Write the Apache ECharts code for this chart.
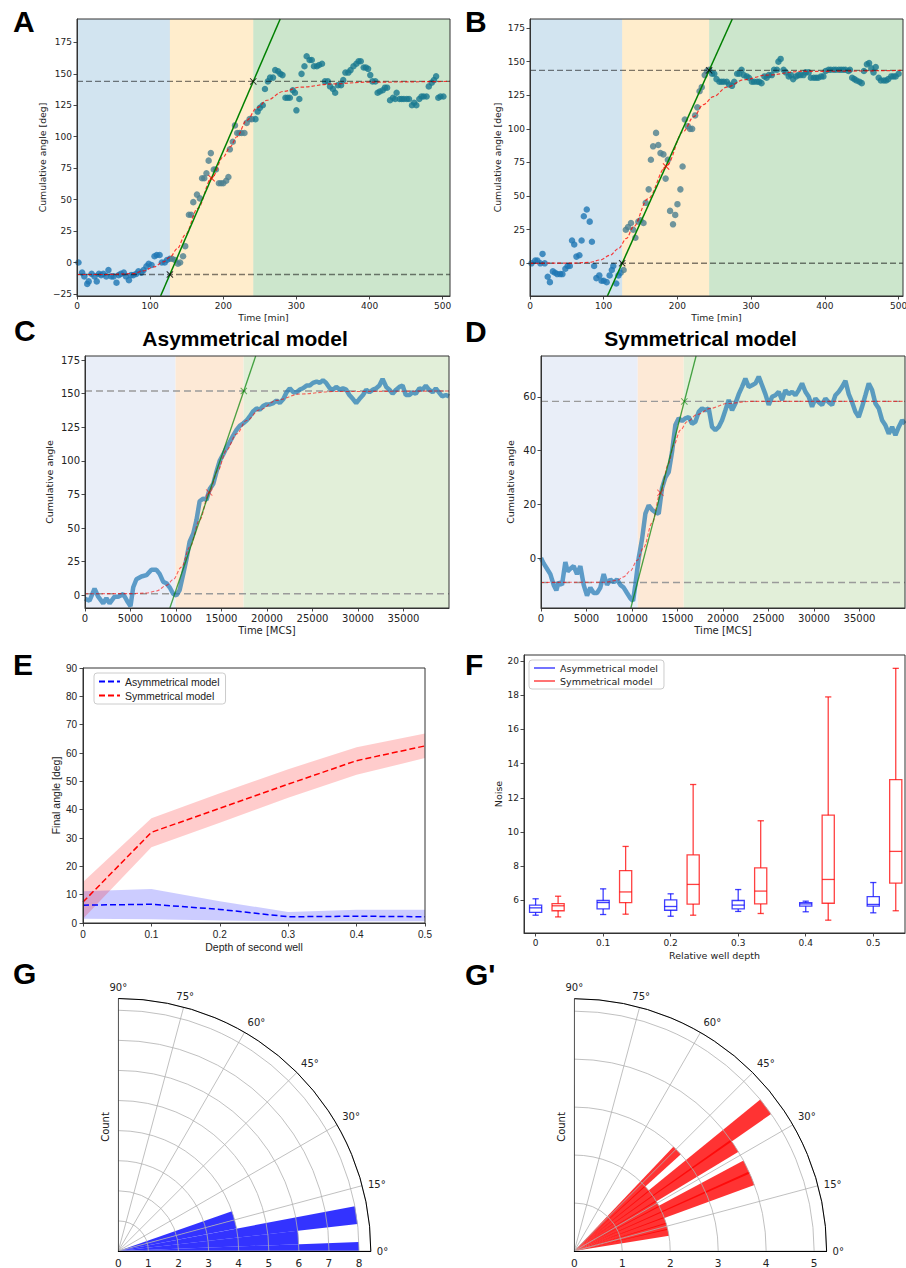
<!DOCTYPE html>
<html>
<head>
<meta charset="utf-8">
<script src="https://cdn.jsdelivr.net/npm/echarts@6.0.0/dist/echarts.min.js"></script>
<style>html,body{margin:0;padding:0;background:#fff;}#chart{width:906px;height:1268px;}</style>
</head>
<body>
<div id="chart"></div>
<script>
// ================= DATA =================
// Panel A (experiment, time in min)
const aPoints = [[2,0],[7,-8],[10,-11],[14,-17],[16,-15],[20,-9],[24,-11],[27,-15],[30,-9],[33,-10],[36,-9],[40,-11],[43,-6],[47,-11],[50,-11],[54,-16],[57,-10],[60,-9],[64,-8],[67,-11],[71,-14],[74,-10],[77,-10],[81,-9],[84,-7],[88,-8],[91,-6],[95,-3],[98,-1],[102,-2],[106,5],[109,6],[113,6],[116,0],[120,0],[123,2],[127,3],[130,3],[134,2],[138,-1],[141,0],[145,5],[148,13],[153,38],[156,38],[159,48],[164,54],[168,51],[171,67],[174,67],[177,71],[180,81],[183,87],[187,74],[190,74],[194,63],[197,63],[200,63],[204,65],[207,68],[209,90],[213,96],[216,109],[219,103],[222,103],[225,103],[229,103],[232,111],[236,114],[239,114],[244,114],[247,120],[250,123],[254,125],[257,138],[261,144],[264,147],[268,147],[271,153],[275,152],[278,150],[281,149],[285,131],[288,131],[291,131],[295,137],[298,135],[300,121],[304,130],[307,150],[311,156],[314,164],[318,161],[321,161],[324,156],[328,156],[331,157],[335,158],[339,144],[343,144],[346,140],[350,138],[353,135],[357,141],[361,141],[364,145],[367,151],[371,151],[374,153],[378,156],[382,158],[385,160],[388,160],[392,155],[395,155],[398,154],[401,149],[404,144],[408,144],[411,135],[414,136],[418,137],[421,139],[424,139],[428,129],[432,131],[435,130],[437,135],[441,130],[444,130],[447,130],[451,130],[454,130],[458,125],[461,127],[464,125],[468,130],[471,132],[474,132],[478,132],[481,140],[485,143],[488,145],[491,148],[494,131],[497,132],[501,132]];
const aFit = [[0,-9.5],[40,-9.5],[77,-8.8],[91,-6.6],[105,-3.5],[118,0.5],[127.5,4.5],[137,11],[148,22],[165,43],[184,67],[200,84],[209.5,92],[218.6,100],[232,113],[246,123],[259.6,129],[282,136],[305,139.4],[350,142],[396,143.4],[510,144]];
const aLevels = [-9.5, 144];          // lower / upper plateaus
const aTurns = [[127,-9.5],[241,144]]; // tangent crossing points
const aMid = [184, 67];
const aPhases = [[0,127],[127,241],[241,510]];

// Panel B
const bPoints = [[2,0],[7,2],[10,2],[14,0],[17,7],[20,0],[24,-10],[27,-14],[31,-6],[34,-7],[37,-8],[41,-8],[44,-8],[48,-4],[51,-2],[54,-2],[57,17],[60,14],[63,5],[67,6],[70,17],[73,35],[77,40],[81,31],[84,16],[87,-2],[90,-11],[94,-9],[97,-13],[100,-13],[104,-14],[108,-9],[111,-5],[113,-2],[117,-15],[120,-9],[123,-7],[127,-5],[130,25],[133,27],[137,30],[140,25],[143,19],[147,31],[150,32],[154,30],[157,45],[161,55],[164,77],[167,87],[171,97],[174,88],[177,82],[181,81],[184,63],[187,77],[190,39],[194,29],[197,36],[200,44],[204,55],[207,72],[210,107],[214,102],[217,100],[220,100],[224,110],[227,116],[230,128],[233,131],[237,140],[240,143],[243,144],[247,141],[250,141],[253,137],[257,135],[260,135],[263,135],[267,135],[270,133],[274,132],[277,135],[281,141],[284,141],[287,144],[290,140],[294,139],[297,138],[301,135],[304,135],[308,135],[311,135],[314,134],[318,139],[321,138],[324,140],[328,140],[331,144],[335,144],[337,150],[340,152],[344,144],[347,142],[351,139],[354,140],[357,137],[361,139],[364,140],[367,140],[371,140],[374,142],[378,142],[381,138],[385,138],[388,138],[391,138],[395,139],[398,139],[401,143],[405,144],[408,144],[412,144],[415,144],[419,144],[422,144],[425,144],[428,144],[432,143],[434,144],[437,138],[440,137],[443,136],[447,135],[450,134],[453,143],[457,148],[460,149],[463,145],[466,142],[469,146],[473,138],[476,136],[480,136],[483,136],[486,137],[490,139],[493,139],[496,139],[500,141]];
const bFit = [[0,0],[60,0.2],[81,0.7],[95,2.5],[108.6,6],[120,11],[131,18.6],[140,27],[160,48],[184.6,72],[208,98],[222,109],[235,118],[249,124],[267,131],[290,136.5],[321,140],[366.5,142.7],[506,143.5]];
const bLevels = [0, 143.5];
const bTurns = [[125,0],[243,143.5]];
const bMid = [184.6, 72];
const bPhases = [[0,125],[125,243],[243,506]];

// Panel C (asymmetrical model, MCS)
const cTrace = [[0,-2.5],[500,-4],[1050,5],[1450,-1],[2000,-6],[2350,-2],[2700,-6],[3250,-1],[3650,-1],[4200,1],[4700,-5],[5000,-8],[5300,6],[5650,12],[6200,14],[6750,15],[7300,19],[7850,19],[8200,16],[8600,10],[8950,9],[9300,6],[9700,1],[10050,0],[10400,4],[10800,16],[11150,27],[11500,40],[11900,46],[12250,56],[12600,70],[13000,72],[13350,71],[13700,79],[14100,83],[14450,92],[14800,100],[15200,105],[15550,110],[15900,114],[16300,119],[16650,123],[17000,126],[17400,128],[17750,130],[18100,133],[18500,137],[18850,139],[19200,138],[19600,141],[19950,142],[20300,142],[20700,143],[21050,145],[21400,143],[21800,146],[22150,151],[22500,154],[22900,151],[23250,151],[23600,153],[23950,154],[24350,156],[24700,156],[25050,158],[25450,159],[25800,158],[26150,160],[26500,158],[26900,154],[27250,153],[27600,155],[28000,153],[28350,154],[28700,153],[29050,149],[29450,146],[29800,143],[30150,146],[30550,149],[30900,153],[31250,151],[31650,153],[32000,154],[32350,156],[32700,161],[33100,155],[33450,153],[33800,150],[34200,153],[34550,155],[34900,156],[35250,149],[35650,149],[36000,151],[36350,150],[36750,154],[37100,153],[37450,156],[37800,153],[38200,151],[38550,154],[38900,151],[39250,148],[39650,149],[40000,148]];
const cFit = [[0,1.2],[5000,1.3],[6750,1.7],[7850,3.2],[8950,7.4],[9680,11.7],[10600,21],[11520,36],[12600,56],[13650,76.5],[14600,93],[15550,108],[16650,120],[17750,130],[19200,138],[21050,145],[23600,149.7],[27300,151.6],[40000,152]];
const cLevels = [1.2, 152];
const cTurns = [[9860,1.2],[17450,152]];
const cMid = [13650, 76.5];
const cPhases = [[0,9950],[9950,17430],[17430,40000]];

// Panel D (symmetrical model, MCS)
const dTrace = [[0,0],[293,-2],[660,-4],[1026,-6],[1392,-10],[1685,-12],[1942,-9],[2308,-10],[2675,-1.5],[2931,-5],[3224,-4],[3591,-3],[3957,-6],[4324,-3],[4690,-10],[5056,-14],[5423,-11],[5789,-13],[6156,-13],[6522,-11],[6888,-6],[7255,-10],[7621,-8],[7988,-9],[8354,-8],[8720,-10],[9087,-11],[9453,-13],[9820,-15],[10113,-16],[10369,-10],[10736,0],[11102,7],[11468,16.5],[11835,19.6],[12201,18],[12568,17],[12934,16.5],[13300,26],[13667,30],[14033,32],[14400,39.5],[14766,49.5],[15132,52],[15499,51],[15865,52],[16232,52.5],[16598,50],[16964,50.7],[17331,54.4],[17697,55.7],[18064,55],[18430,55.7],[18796,48.8],[19163,47.6],[19529,48.8],[19896,51.3],[20262,55],[20628,58.8],[20995,55],[21361,57.5],[21728,61],[22094,63.7],[22460,66.8],[22827,63.7],[23193,64.3],[23560,65],[23926,67.5],[24292,64.3],[24659,61],[25025,57],[25392,60],[25758,60.6],[26124,61.9],[26491,58.8],[26857,62.5],[27224,61],[27590,61.9],[27956,60.6],[28323,62.5],[28689,65],[29056,61.9],[29422,60],[29788,56.3],[30155,59.4],[30521,58],[30888,57],[31254,59.4],[31620,58],[31987,57],[32353,60.6],[32720,61.9],[33086,63.7],[33452,66],[33819,61],[34185,58],[34552,54.4],[34918,52.5],[35284,56.3],[35651,60.6],[36017,65],[36384,62.5],[36750,57.5],[37116,55.7],[37483,51.3],[37849,49.4],[38216,46.3],[38582,48.8],[38948,45.7],[39315,48.8],[39681,51.3],[40000,50]];
const dFit = [[0,-9.1],[7000,-9],[8350,-8.3],[9090,-7],[9820,-4.8],[10550,-0.9],[11290,4],[12200,13],[13120,24.3],[14000,35],[14580,42],[15320,47.6],[16050,50.7],[17150,53.4],[18610,55.7],[20450,57.5],[23000,58.3],[40000,58.3]];
const dLevels = [-9.1, 58.3];
const dTurns = [[10600,-9.1],[15750,58.3]];
const dMid = [13120, 24.3];
const dPhases = [[0,10630],[10630,15690],[15690,40000]];

// Panel E
const eDepth = [0, 0.1, 0.2, 0.3, 0.4, 0.5];
const eAsymMean = [6.3, 6.6, 4.8, 2.2, 2.4, 2.2];
const eAsymLow  = [1.5, 1.3, 0.9, 0.6, 0.6, 0.6];
const eAsymHigh = [11.2, 12, 7.7, 3.9, 4.7, 4.7];
const eSymMean  = [7.4, 32, 40.5, 49, 57.3, 62.5];
const eSymLow   = [1.5, 26.7, 35.4, 44.2, 52.3, 58.2];
const eSymHigh  = [14.5, 37, 45.8, 54.3, 62, 66.9];

// Panel F: [whisker low, Q1, median, Q3, whisker high]
const fDepth = [0, 0.1, 0.2, 0.3, 0.4, 0.5];
const fAsym = [[5.14,5.3,5.57,5.73,6.1],[5.18,5.51,5.88,6.0,6.68],[5.08,5.43,5.65,6.04,6.39],[5.36,5.51,5.73,6.0,6.64],[5.34,5.67,5.8,5.88,5.96],[5.28,5.67,5.77,6.23,7.05]];
const fSym  = [[5.04,5.4,5.69,5.82,6.25],[5.2,5.88,6.5,7.75,9.16],[5.14,5.79,6.94,8.67,12.78],[5.24,5.8,6.55,7.91,10.66],[4.85,5.84,7.23,10.99,17.9],[5.4,7.01,8.87,13.06,19.57]];

// Panel G / G' : angular histograms (bin centre in deg, count)
const gAngles = [0, 4.29, 8.57, 12.86, 17.14];
const gCounts = [8, 6, 8, 4, 4];
const g2Angles = [11.25, 14.93, 18.6, 22.3, 25.96, 29.6, 33.3, 37.0, 40.7, 44.35];
const g2Counts = [2, 2, 2, 4, 4, 2, 4, 5, 2, 3];
const gBinWidth = 4.29;

// Tick labels
const aXTicks = [0,100,200,300,400,500];
const aYTicks = [-25,0,25,50,75,100,125,150,175];
const bYTicks = [0,25,50,75,100,125,150,175];
const cYTicks = [0,25,50,75,100,125,150,175];
const cdXTicks = [0,5000,10000,15000,20000,25000,30000,35000];
const dYTicks = [0,20,40,60];
const eXTicks = [0,0.1,0.2,0.3,0.4,0.5];
const eYTicks = [0,10,20,30,40,50,60,70,80,90];
const fYTicks = [6,8,10,12,14,16,18,20];
const gRTicks = [0,1,2,3,4,5,6,7,8];
const g2RTicks = [0,1,2,3,4,5];

// ================= STYLE / LAYOUT =================
const FF = "'DejaVu Sans', sans-serif";
const FE = "'Liberation Sans', Arial, sans-serif";
const FB = "'Liberation Sans', Arial, sans-serif";
const XMARK = 'path://M0,1L1,0L5,4L9,0L10,1L6,5L10,9L9,10L5,6L1,10L0,9L4,5Z';
const fmtNum = v => (v < 0 ? '\u2212' + Math.abs(v) : String(v));

const gridRects = [
  {left:77, top:19, width:373, height:277},
  {left:530, top:19, width:373, height:277},
  {left:85, top:356, width:364, height:252},
  {left:541, top:356, width:364, height:252},
  {left:83, top:668, width:342, height:255},
  {left:524, top:655, width:381, height:278}
];
const grids = gridRects.map(g => Object.assign({}, g, {
  show:true, borderColor:'#333', borderWidth:1, backgroundColor:'transparent',
  containLabel:false, outerBoundsMode:'none', z:10
}));

function mkAxis(g, min, max, ticks, o) {
  return {
    type:'value', gridIndex:g, min:min, max:max, z:10,
    axisLine:{show:true, onZero:false, lineStyle:{color:'#333', width:1}},
    axisTick:{show:true, length:3.5, customValues:ticks, lineStyle:{color:'#333', width:0.9}},
    axisLabel:{customValues:ticks, fontSize:o.fs, fontFamily:o.ff, color:'#222', margin:o.margin, formatter:fmtNum},
    splitLine:{show:false},
    name:o.name || '', nameLocation:'middle', nameGap:o.gap,
    nameTextStyle:{fontSize:o.nfs, fontFamily:o.ff, color:'#222'}
  };
}

const xAxes = [
  mkAxis(0, 0, 510, aXTicks, {fs:9, ff:FF, margin:5, name:'Time [min]', gap:17, nfs:9.3}),
  mkAxis(1, 0, 506, aXTicks, {fs:9, ff:FF, margin:5, name:'Time [min]', gap:17, nfs:9.3}),
  mkAxis(2, 0, 40000, cdXTicks, {fs:10, ff:FF, margin:5, name:'Time [MCS]', gap:17, nfs:10}),
  mkAxis(3, 0, 40000, cdXTicks, {fs:10, ff:FF, margin:5, name:'Time [MCS]', gap:17, nfs:10}),
  mkAxis(4, 0, 0.5, eXTicks, {fs:10, ff:FE, margin:6, name:'Depth of second well', gap:18, nfs:10.5}),
  mkAxis(5, -0.0172, 0.547, fDepth, {fs:9, ff:FF, margin:5, name:'Relative well depth', gap:17, nfs:9.5})
];
const yAxes = [
  mkAxis(0, -26.6, 193.6, aYTicks, {fs:9, ff:FF, margin:5, name:'Cumulative angle [deg]', gap:30, nfs:9.3}),
  mkAxis(1, -24.3, 181.7, bYTicks, {fs:9, ff:FF, margin:5, name:'Cumulative angle [deg]', gap:28, nfs:9.3}),
  mkAxis(2, -9.4, 178, cYTicks, {fs:10, ff:FF, margin:5, name:'Cumulative angle', gap:31, nfs:9.5}),
  mkAxis(3, -18.6, 75.2, dYTicks, {fs:10, ff:FF, margin:5, name:'Cumulative angle', gap:26, nfs:9.5}),
  mkAxis(4, 0, 90, eYTicks, {fs:10, ff:FE, margin:6, name:'Final angle [deg]', gap:22, nfs:10.5}),
  mkAxis(5, 4.1, 20.35, fYTicks, {fs:9, ff:FF, margin:5, name:'Noise', gap:21, nfs:9.5})
];

// ================= SERIES HELPERS =================
function spanSeries(g, phases, colors, z) {
  return {
    type:'custom', xAxisIndex:g, yAxisIndex:g, z:z, silent:true,
    data: phases.map(p => [p[0], p[1], 0]),
    encode:{x:[0,1], y:2},
    renderItem: function (params, api) {
      const cs = params.coordSys;
      const x0 = api.coord([api.value(0), 0])[0];
      const x1 = api.coord([api.value(1), 0])[0];
      return {type:'rect', shape:{x:x0, y:cs.y, width:x1 - x0, height:cs.height},
              style:{fill:colors[params.dataIndex]}};
    }
  };
}
function lineSeries(g, data, color, width, dash, z, extra) {
  return Object.assign({
    type:'line', xAxisIndex:g, yAxisIndex:g, data:data, z:z, symbol:'none', silent:true,
    itemStyle:{color:color},
    lineStyle:{color:color, width:width, type:dash || 'solid'}, animation:false
  }, extra || {});
}
function hLines(g, levels, xmax, color, dash, z) {
  return levels.map(l => lineSeries(g, [[0, l], [xmax, l]], color, 1.4, dash, z));
}
function tangentLine(turns, ymin, ymax) {
  const k = (turns[1][1] - turns[0][1]) / (turns[1][0] - turns[0][0]);
  return [[turns[0][0] + (ymin - turns[0][1]) / k, ymin], [turns[0][0] + (ymax - turns[0][1]) / k, ymax]];
}
function markerSeries(g, pts, color, z, size) {
  return {type:'scatter', xAxisIndex:g, yAxisIndex:g, data:pts, symbol:XMARK, symbolSize:size || 7,
          itemStyle:{color:color}, z:z, silent:true};
}

const expSpan = ['rgba(31,119,180,0.2)','rgba(255,165,0,0.2)','rgba(0,128,0,0.2)'];
const simSpan = ['#e9eef8','#fde9d6','#e2efd9'];

function expPanel(g, pts, fit, levels, turns, mid, phases, xmax, ymin, ymax) {
  return [
    {type:'scatter', xAxisIndex:g, yAxisIndex:g, data:pts, symbolSize:6.5, itemStyle:{color:'#1f77b4'}, z:2, silent:true},
    spanSeries(g, phases, expSpan, 3),
    ...hLines(g, levels, xmax, 'rgba(0,0,0,0.5)', [6,3], 4),
    lineSeries(g, fit, 'rgba(255,0,0,0.75)', 1.2, [3.5,2], 5, {smooth:0.35, smoothMonotone:'x'}),
    lineSeries(g, tangentLine(turns, ymin, ymax), '#008000', 1.5, 'solid', 6),
    markerSeries(g, turns, '#000', 7, 7),
    markerSeries(g, [mid], '#ff0000', 7, 7)
  ];
}
function simPanel(g, trace, fit, levels, turns, mid, phases, xmax, ymin, ymax) {
  return [
    spanSeries(g, phases, simSpan, 1),
    ...hLines(g, levels, xmax, '#9a9a9a', [7,4], 2),
    lineSeries(g, trace, 'rgba(31,119,180,0.7)', 4.5, 'solid', 3),
    lineSeries(g, fit, 'rgba(255,0,0,0.6)', 1.1, [3.5,2], 4, {smooth:0.35, smoothMonotone:'x'}),
    lineSeries(g, tangentLine(turns, ymin, ymax), 'rgba(0,128,0,0.7)', 1.3, 'solid', 5),
    markerSeries(g, [turns[1]], 'rgba(0,128,0,0.75)', 6, 7),
    markerSeries(g, [mid], 'rgba(255,0,0,0.65)', 6, 7)
  ];
}

function bandSeries(g, xs, lows, highs, color, z) {
  return {
    type:'custom', xAxisIndex:g, yAxisIndex:g, z:z, silent:true,
    data: xs.map((x, i) => [x, lows[i], highs[i]]), encode:{x:0, y:[1,2]},
    renderItem: function (params, api) {
      if (params.dataIndex !== 0) return null;
      const pts = [];
      for (let i = 0; i < xs.length; i++) pts.push(api.coord([xs[i], highs[i]]));
      for (let i = xs.length - 1; i >= 0; i--) pts.push(api.coord([xs[i], lows[i]]));
      return {type:'polygon', shape:{points:pts}, style:{fill:color}};
    }
  };
}

function boxSeries(g, xs, stats, offset, color, z) {
  const hw = 0.009, cw = 0.0046;
  return {
    type:'custom', xAxisIndex:g, yAxisIndex:g, z:z, silent:true,
    data: xs.map((x, i) => [x + offset].concat(stats[i])), encode:{x:0, y:[1,2,3,4,5]},
    renderItem: function (params, api) {
      const x = api.value(0);
      const lo = api.value(1), q1 = api.value(2), md = api.value(3), q3 = api.value(4), hi = api.value(5);
      const L = api.coord([x - hw, q1]), R = api.coord([x + hw, q3]);
      const cL = api.coord([x - cw, lo])[0], cR = api.coord([x + cw, lo])[0];
      const cx = api.coord([x, lo])[0];
      const yLo = api.coord([x, lo])[1], yHi = api.coord([x, hi])[1], yMd = api.coord([x, md])[1];
      const st = {stroke:color, lineWidth:1.3, fill:null};
      return {type:'group', children:[
        {type:'rect', shape:{x:L[0], y:R[1], width:R[0] - L[0], height:L[1] - R[1]}, style:{stroke:color, lineWidth:1.3, fill:'none'}},
        {type:'line', shape:{x1:L[0], y1:yMd, x2:R[0], y2:yMd}, style:st},
        {type:'line', shape:{x1:cx, y1:L[1], x2:cx, y2:yLo}, style:st},
        {type:'line', shape:{x1:cx, y1:R[1], x2:cx, y2:yHi}, style:st},
        {type:'line', shape:{x1:cL, y1:yLo, x2:cR, y2:yLo}, style:st},
        {type:'line', shape:{x1:cL, y1:yHi, x2:cR, y2:yHi}, style:st}
      ]};
    }
  };
}

function sectorSeries(p, angles, counts, color) {
  return {
    type:'custom', coordinateSystem:'polar', polarIndex:p, z:2, silent:true,
    data: counts.map((c, i) => [c, angles[i]]),
    renderItem: function (params, api) {
      const r = api.value(0), c = api.value(1);
      const a0 = Math.max(0, c - gBinWidth / 2), a1 = Math.min(90, c + gBinWidth / 2);
      const pts = [api.coord([0, c])];
      const n = 16;
      for (let i = 0; i <= n; i++) pts.push(api.coord([r, a0 + (a1 - a0) * i / n]));
      return {type:'polygon', shape:{points:pts}, style:{fill:color}};
    }
  };
}

// ================= OPTION =================
const series = [].concat(
  expPanel(0, aPoints, aFit, aLevels, aTurns, aMid, aPhases, 510, -26.6, 193.6),
  expPanel(1, bPoints, bFit, bLevels, bTurns, bMid, bPhases, 506, -24.3, 181.7),
  simPanel(2, cTrace, cFit, cLevels, cTurns, cMid, cPhases, 40000, -9.4, 178),
  simPanel(3, dTrace, dFit, dLevels, dTurns, dMid, dPhases, 40000, -18.6, 75.2),
  [
    bandSeries(4, eDepth, eAsymLow, eAsymHigh, 'rgba(0,0,255,0.2)', 2),
    bandSeries(4, eDepth, eSymLow, eSymHigh, 'rgba(255,0,0,0.2)', 2),
    lineSeries(4, eDepth.map((d, i) => [d, eAsymMean[i]]), '#0000ff', 1.5, [6,3], 3, {name:'E:Asymmetrical model'}),
    lineSeries(4, eDepth.map((d, i) => [d, eSymMean[i]]), '#ff0000', 1.5, [6,3], 3, {name:'E:Symmetrical model'}),
    boxSeries(5, fDepth, fAsym, 0, 'rgba(0,0,255,0.75)', 3),
    boxSeries(5, fDepth, fSym, 0.0333, 'rgba(255,0,0,0.75)', 3),
    lineSeries(5, [], 'rgba(0,0,255,0.55)', 1.5, 'solid', 3, {name:'F:Asymmetrical model'}),
    lineSeries(5, [], 'rgba(255,0,0,0.55)', 1.5, 'solid', 3, {name:'F:Symmetrical model'}),
    sectorSeries(0, gAngles, gCounts, 'rgba(0,0,255,0.8)'),
    sectorSeries(1, g2Angles, g2Counts, 'rgba(255,0,0,0.8)'),
    {type:'line', coordinateSystem:'polar', polarIndex:0, data:[[0,90],[8.39,90]], symbol:'none', silent:true, z:12, lineStyle:{color:'#000', width:1}},
    {type:'line', coordinateSystem:'polar', polarIndex:1, data:[[0,90],[5.26,90]], symbol:'none', silent:true, z:12, lineStyle:{color:'#000', width:1}}
  ]
);

function angleAx(p) {
  return {polarIndex:p, type:'value', min:0, max:90, startAngle:0, endAngle:90, clockwise:false, interval:15, z:10,
    axisLine:{show:true, lineStyle:{color:'#000', width:1}}, axisTick:{show:false},
    axisLabel:{fontSize:10, fontFamily:FF, color:'#222', margin:6, formatter: v => v + '\u00b0'},
    splitLine:{show:true, lineStyle:{color:'#b0b0b0', width:0.8}}};
}
function radiusAx(p, max, ticks) {
  return {polarIndex:p, type:'value', min:0, max:max, interval:1, z:10,
    axisLine:{show:true, lineStyle:{color:'#000', width:1}},
    axisTick:{show:false},
    axisLabel:{customValues:ticks, fontSize:10.5, fontFamily:FF, color:'#222', margin:-17, formatter:fmtNum},
    splitLine:{show:true, lineStyle:{color:'#b0b0b0', width:0.8}}};
}

const letters = [['A',13,21],['B',465,21],['C',14,330],['D',465,331],['E',13,664],['F',465,664],['G',13,973],["G'",465,974]];
const graphics = letters.map(l => ({type:'text', x:l[1], y:l[2], silent:true,
  style:{text:l[0], fontSize:30, fontWeight:'bold', fontFamily:FB, fill:'#000', align:'left', verticalAlign:'middle'}}));
graphics.push(
  {type:'text', x:245, y:338, silent:true, style:{text:'Asymmetrical model', fontSize:21, fontWeight:'bold', fontFamily:FB, fill:'#000', align:'center', verticalAlign:'middle'}},
  {type:'text', x:700.5, y:338, silent:true, style:{text:'Symmetrical model', fontSize:21, fontWeight:'bold', fontFamily:FB, fill:'#000', align:'center', verticalAlign:'middle'}},
  {type:'text', x:105, y:1127, rotation:Math.PI / 2, silent:true, style:{text:'Count', fontSize:10, fontFamily:FF, fill:'#222', align:'center', verticalAlign:'middle'}},
  {type:'text', x:561, y:1127, rotation:Math.PI / 2, silent:true, style:{text:'Count', fontSize:10, fontFamily:FF, fill:'#222', align:'center', verticalAlign:'middle'}}
);

const legendBase = {orient:'vertical', itemWidth:21, itemHeight:8, itemGap:3, padding:[3,6,3,4],
  borderColor:'#cccccc', borderWidth:1, borderRadius:3, backgroundColor:'rgba(255,255,255,0.8)',
  selectedMode:false, formatter: n => n.slice(2),
  itemStyle:{opacity:0, borderWidth:0}};

const option = {
  animation:false,
  backgroundColor:'#ffffff',
  grid: grids,
  xAxis: xAxes,
  yAxis: yAxes,
  polar: [{center:[118.3,1251], radius:252.5}, {center:[574.3,1251], radius:252.3}],
  angleAxis: [angleAx(0), angleAx(1)],
  radiusAxis: [radiusAx(0, 8.39, gRTicks), radiusAx(1, 5.26, g2RTicks)],
  legend: [
    Object.assign({}, legendBase, {left:94, top:673, data:['E:Asymmetrical model','E:Symmetrical model'],
      textStyle:{fontSize:10.5, fontFamily:FE, color:'#222'}}),
    Object.assign({}, legendBase, {left:529, top:660, data:['F:Asymmetrical model','F:Symmetrical model'],
      textStyle:{fontSize:9.5, fontFamily:FF, color:'#222'}})
  ],
  graphic: graphics,
  series: series
};

const chart = echarts.init(document.getElementById('chart'), null, {renderer:'svg', width:906, height:1268});
chart.setOption(option);
</script>
</body>
</html>
